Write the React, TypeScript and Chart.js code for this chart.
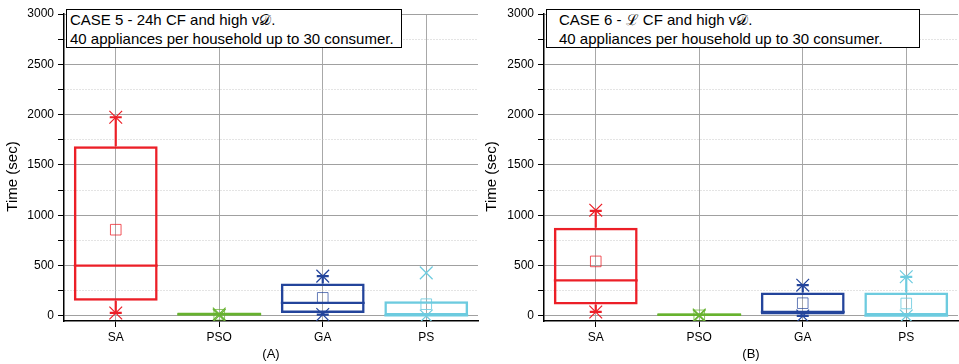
import React, { useEffect, useRef } from "react";
import { Chart, registerables } from "chart.js";

Chart.register(...registerables);

const FONT = "'Liberation Sans', Arial, sans-serif";

const CATEGORIES = ["SA", "PSO", "GA", "PS"];
const Y_TICKS = [0, 250, 500, 750, 1000, 1250, 1500, 1750, 2000, 2250, 2500, 2750, 3000];
const Y_TITLE = "Time (sec)";

const COLORS = ["#ec1f27", "#67b22f", "#23449b", "#6dcbdf"];
const MEAN_COLORS = ["rgba(236,31,39,0.75)", "rgba(103,178,47,0.75)", "rgba(35,68,155,0.7)", "rgba(109,203,223,0.85)"];

// Panel A
const A_Q1 = [150, 0, 30, 0];
const A_Q3 = [1685, 35, 323, 147];
const A_MEDIAN = [500, 15, 130, 5];
const A_MEAN = [857, 12, 180, 117];
const A_WHISKER_LO = [30, 0, 14, 0];
const A_WHISKER_HI = [1974, 35, 396, 147];
const A_MIN = [30, 5, 14, 0];
const A_MAX = [1974, 20, 396, 428];

// Panel B
const B_Q1 = [113, 0, 14, 0];
const B_Q3 = [877, 28, 233, 233];
const B_MEDIAN = [353, 10, 40, 3];
const B_MEAN = [542, 6, 127, 124];
const B_WHISKER_LO = [40, 0, 0, 0];
const B_WHISKER_HI = [1045, 28, 306, 389];
const B_MIN = [40, 0, 0, 0];
const B_MAX = [1051, 10, 306, 389];

type Panel = {
  q1: number[]; q3: number[]; median: number[]; mean: number[];
  wlo: number[]; whi: number[]; min: number[]; max: number[];
  xTitle: string; yWidth: number;
};

const PANEL_A: Panel = { q1: A_Q1, q3: A_Q3, median: A_MEDIAN, mean: A_MEAN, wlo: A_WHISKER_LO, whi: A_WHISKER_HI, min: A_MIN, max: A_MAX, xTitle: "(A)", yWidth: 64 };
const PANEL_B: Panel = { q1: B_Q1, q3: B_Q3, median: B_MEDIAN, mean: B_MEAN, wlo: B_WHISKER_LO, whi: B_WHISKER_HI, min: B_MIN, max: B_MAX, xTitle: "(B)", yWidth: 65 };

function boxPlugin(p: Panel) {
  return {
    id: "boxExtras",
    afterDatasetsDraw(chart: any) {
      const ctx = chart.ctx;
      const y = chart.scales.y;
      const meta = chart.getDatasetMeta(0);
      ctx.save();
      meta.data.forEach((bar: any, i: number) => {
        const x = bar.x;
        const half = bar.width / 2;
        ctx.strokeStyle = COLORS[i];
        ctx.lineWidth = 2.2;
        ctx.beginPath();
        ctx.moveTo(x - half, y.getPixelForValue(p.median[i]));
        ctx.lineTo(x + half, y.getPixelForValue(p.median[i]));
        ctx.stroke();
        const cap = 6;
        const segs: [number, number][] = [[p.q3[i], p.whi[i]], [p.q1[i], p.wlo[i]]];
        segs.forEach(([from, to]) => {
          if (Math.abs(to - from) < 1e-6) return;
          const py1 = y.getPixelForValue(from);
          const py2 = y.getPixelForValue(to);
          ctx.beginPath();
          ctx.moveTo(x, py1);
          ctx.lineTo(x, py2);
          ctx.moveTo(x - cap, py2);
          ctx.lineTo(x + cap, py2);
          ctx.stroke();
        });
      });
      ctx.restore();
    },
  };
}

// Draws the y-axis title slightly below the plot centre, as in the reference.
const yTitlePlugin = {
  id: "yTitle",
  afterDraw(chart: any) {
    const ctx = chart.ctx;
    const area = chart.chartArea;
    ctx.save();
    ctx.translate(12.5, (area.top + area.bottom) / 2 + 9);
    ctx.rotate(-Math.PI / 2);
    ctx.font = `15px ${FONT}`;
    ctx.fillStyle = "#000";
    ctx.textAlign = "center";
    ctx.textBaseline = "middle";
    ctx.fillText(Y_TITLE, 0, 0);
    ctx.restore();
  },
};

function makeConfig(p: Panel): any {
  return {
    type: "bar",
    data: {
      labels: CATEGORIES,
      datasets: [
        {
          type: "bar",
          data: p.q1.map((v, i) => [v, p.q3[i]]),
          backgroundColor: "rgba(0,0,0,0)",
          borderColor: COLORS,
          borderWidth: 2.5,
          borderSkipped: false,
          barPercentage: 0.81,
          categoryPercentage: 1,
        },
        {
          type: "line",
          data: p.mean,
          showLine: false,
          pointStyle: "rect",
          pointRadius: 7.5,
          pointBorderWidth: 1,
          pointBorderColor: MEAN_COLORS,
          pointBackgroundColor: "rgba(0,0,0,0)",
        },
        {
          type: "line",
          data: p.max,
          showLine: false,
          pointStyle: "crossRot",
          pointRadius: 9,
          pointBorderWidth: 1.2,
          pointBorderColor: COLORS,
        },
        {
          type: "line",
          data: p.min,
          showLine: false,
          pointStyle: "crossRot",
          pointRadius: 9,
          pointBorderWidth: 1.2,
          pointBorderColor: COLORS,
        },
      ],
    },
    options: {
      responsive: false,
      animation: false,
      devicePixelRatio: 1,
      layout: { autoPadding: false, padding: { top: 14, left: 0, right: 1, bottom: 0 } },
      plugins: { legend: { display: false }, tooltip: { enabled: false } },
      scales: {
        x: {
          offset: true,
          grid: { color: "#a8a8a8", lineWidth: 1, drawTicks: true, tickLength: 6, tickColor: "#000", offset: false },
          border: { color: "#000", width: 1.5 },
          ticks: { color: "#000", font: { family: FONT, size: 12 }, padding: 3 },
          title: { display: true, text: p.xTitle, color: "#000", font: { family: FONT, size: 13 }, padding: { top: 0, bottom: 2 } },
          afterFit: (s: any) => { s.height = 43; s.paddingLeft = 0; s.paddingRight = 0; },
        },
        y: {
          min: -50,
          max: 3000,
          afterBuildTicks: (s: any) => { s.ticks = Y_TICKS.map((v) => ({ value: v })); },
          afterFit: (s: any) => { s.width = p.yWidth; },
          ticks: {
            color: "#000",
            autoSkip: false,
            font: { family: FONT, size: 12 },
            padding: 4,
            callback: (v: any) => (Number(v) % 500 === 0 ? String(v) : ""),
          },
          grid: {
            color: (c: any) => (c.tick && c.tick.value % 500 !== 0 ? "#c8c8c8" : "#a0a0a0"),
            lineWidth: 1,
            tickLength: 6,
            tickColor: "#000",
          },
          border: {
            color: "#000",
            width: 1.5,
            dash: (c: any) => (c.tick && c.tick.value % 500 !== 0 ? [1, 2] : []),
          },
          title: { display: false, text: Y_TITLE },
        },
      },
    },
    plugins: [boxPlugin(p), yTitlePlugin],
  };
}

function ChartPanel({ panel, left, width }: { panel: Panel; left: number; width: number }) {
  const ref = useRef<HTMLCanvasElement | null>(null);
  useEffect(() => {
    if (!ref.current) return;
    const chart = new Chart(ref.current, makeConfig(panel));
    return () => chart.destroy();
  }, [panel]);
  return (
    <canvas
      ref={ref}
      width={width}
      height={364}
      style={{ position: "absolute", left, top: 0, width, height: 364 }}
    />
  );
}

const boxStyle: React.CSSProperties = {
  position: "absolute",
  top: 9,
  height: 39,
  border: "1px solid #000",
  background: "#fff",
  fontFamily: FONT,
  fontSize: 15,
  lineHeight: "18.5px",
  color: "#000",
  boxSizing: "border-box",
  whiteSpace: "nowrap",
  paddingTop: 1,
};

export default function App() {
  return (
    <div style={{ position: "absolute", left: 0, top: 0, width: 959, height: 364, background: "#fff", overflow: "hidden" }}>
      <ChartPanel panel={PANEL_A} left={0} width={479} />
      <ChartPanel panel={PANEL_B} left={479} width={480} />
      <div style={{ ...boxStyle, left: 66, width: 336, paddingLeft: 3 }}>
        <div>CASE 5 - 24h CF and high v𝒟.</div>
        <div>40 appliances per household up to 30 consumer.</div>
      </div>
      <div style={{ ...boxStyle, left: 546, width: 374, paddingLeft: 12 }}>
        <div>CASE 6 - ℒ CF and high v𝒟.</div>
        <div>40 appliances per household up to 30 consumer.</div>
      </div>
    </div>
  );
}
